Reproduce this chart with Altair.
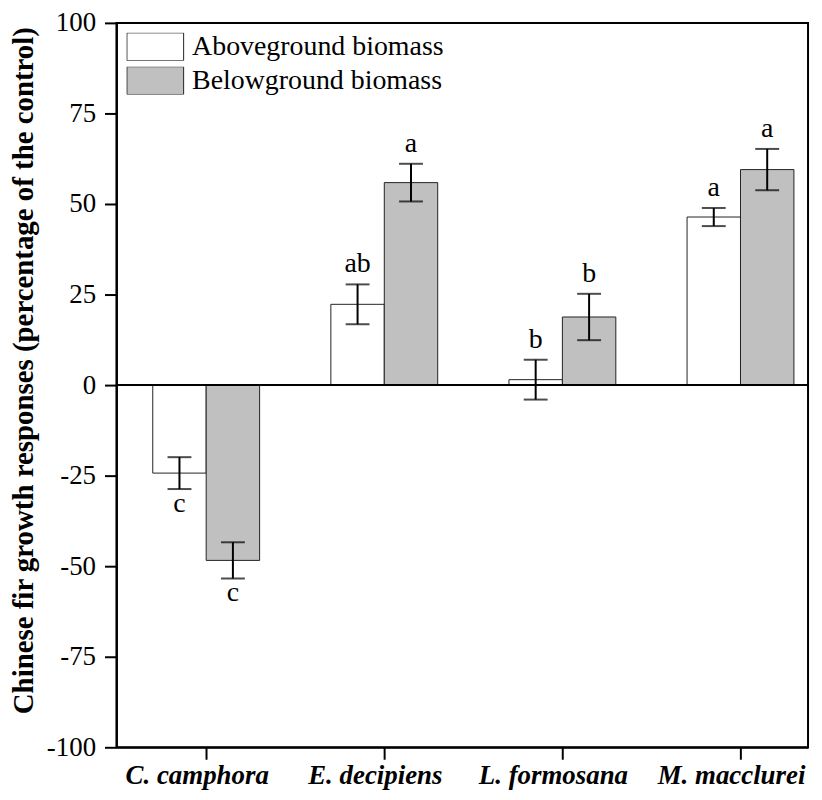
import altair as alt
import pandas as pd

species = ["C. camphora", "E. decipiens", "L. formosana", "M. macclurei"]
groups = ["Aboveground biomass", "Belowground biomass"]
above_mean = [-24.3, 22.3, 1.5, 46.4]
above_se = [4.4, 5.5, 5.5, 2.5]
below_mean = [-48.4, 55.9, 18.8, 59.5]
below_se = [5.0, 5.2, 6.4, 5.7]
above_letters = ["c", "ab", "b", "a"]
below_letters = ["c", "a", "b", "a"]
y_ticks = [-100, -75, -50, -25, 0, 25, 50, 75, 100]

rows = []
for i, s in enumerate(species):
    rows.append(dict(species=s, group=groups[0], mean=above_mean[i], se=above_se[i], letter=above_letters[i]))
    rows.append(dict(species=s, group=groups[1], mean=below_mean[i], se=below_se[i], letter=below_letters[i]))
df = pd.DataFrame(rows)
df["lo"] = df["mean"] - df["se"]
df["hi"] = df["mean"] + df["se"]

FONT = "Liberation Serif"

x_scale = alt.Scale(paddingInner=0.4, paddingOuter=0.1415, align=0.72)
x_enc = alt.X("species:N", sort=species, scale=x_scale,
              axis=alt.Axis(title=None, labelAngle=0, labelFontStyle="italic", labelFontWeight="bold",
                            labelPadding=3, labelOffset=-9))
xo = alt.XOffset("group:N", sort=groups, scale=alt.Scale(paddingInner=0, paddingOuter=0))
y_scale = alt.Scale(domain=[-100, 100], nice=False)

base = alt.Chart(df)

bars = base.mark_bar(stroke="#222222", strokeWidth=1).encode(
    x=x_enc,
    xOffset=xo,
    y=alt.Y("mean:Q", scale=y_scale,
            axis=alt.Axis(values=y_ticks, title="Chinese fir growth responses (percentage of the control)",
                          labelExpr="'' + datum.value", grid=False, labelPadding=9, titlePadding=8,
                          titleFontSize=29, titleY=349)),
    fill=alt.Fill("group:N", sort=groups,
                  scale=alt.Scale(domain=groups, range=["#ffffff", "#c0c0c0"]),
                  legend=alt.Legend(title=None, orient="top-left", offset=10, padding=0,
                                    symbolType="M-1,-0.49H1V0.49H-1Z", symbolSize=3249,
                                    symbolStrokeColor="#222222", symbolStrokeWidth=1,
                                    labelFont=FONT, labelFontSize=28, labelColor="black",
                                    labelLimit=500, labelOffset=8, rowPadding=6, clipHeight=28)),
)

err = base.mark_rule(color="black", strokeWidth=2).encode(
    x=alt.X("species:N", sort=species, scale=x_scale), xOffset=xo,
    y=alt.Y("lo:Q", scale=y_scale), y2="hi:Q")

cap_lo = base.mark_tick(color="black", thickness=2, size=24, orient="horizontal").encode(
    x=alt.X("species:N", sort=species, scale=x_scale), xOffset=xo, y=alt.Y("lo:Q", scale=y_scale))
cap_hi = base.mark_tick(color="black", thickness=2, size=24, orient="horizontal").encode(
    x=alt.X("species:N", sort=species, scale=x_scale), xOffset=xo, y=alt.Y("hi:Q", scale=y_scale))

txt_pos = base.transform_filter("datum.mean >= 0").mark_text(
    font=FONT, fontSize=28, color="black", baseline="alphabetic", dy=-12).encode(
    x=alt.X("species:N", sort=species, scale=x_scale), xOffset=xo, y=alt.Y("hi:Q", scale=y_scale), text="letter:N")
txt_neg = base.transform_filter("datum.mean < 0").mark_text(
    font=FONT, fontSize=28, color="black", baseline="alphabetic", dy=23).encode(
    x=alt.X("species:N", sort=species, scale=x_scale), xOffset=xo, y=alt.Y("lo:Q", scale=y_scale), text="letter:N")

zero = alt.Chart(pd.DataFrame({"z": [0]})).mark_rule(color="black", strokeWidth=2).encode(
    y=alt.Y("z:Q", scale=y_scale))

chart = alt.layer(bars, zero, err, cap_lo, cap_hi, txt_pos, txt_neg).properties(
    width=695, height=728,
    padding={"left": 109, "top": 13, "right": 6, "bottom": 50},
    autosize=alt.AutoSizeParams(type="none"),
    background="white",
).configure_view(stroke="black", strokeWidth=2).configure_axis(
    labelFont=FONT, labelFontSize=27, labelColor="black",
    titleFont=FONT, titleFontSize=29, titleFontWeight="bold", titleColor="black",
    tickSize=12, tickColor="black", tickWidth=2, domainColor="black", domainWidth=2,
)

chart.save("out.html", embed_options={"renderer": "svg", "actions": False})
